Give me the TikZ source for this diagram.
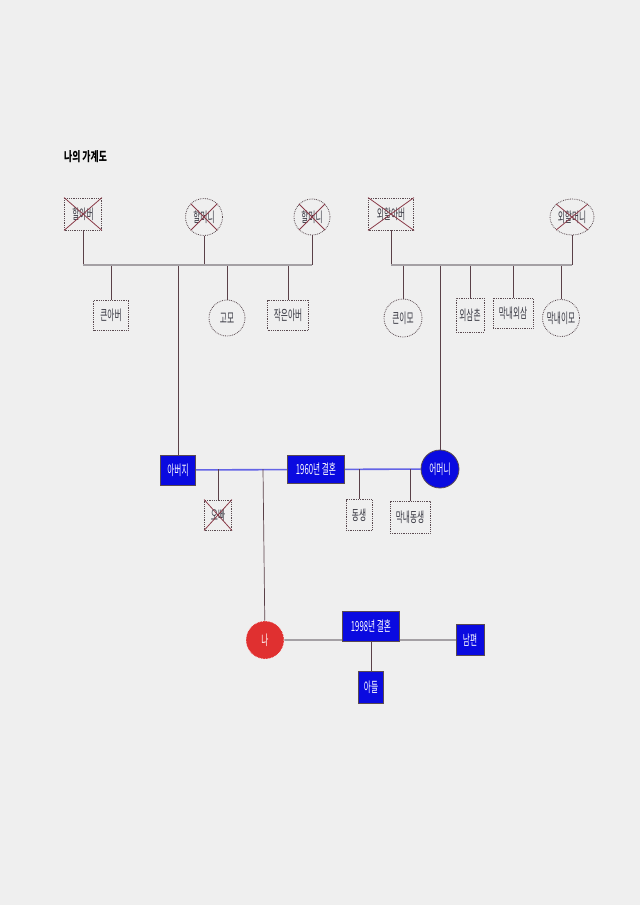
\documentclass[tikz,border=0pt]{standalone}
\usepackage{fontspec}
\usepackage{graphicx}
\usetikzlibrary{shapes.geometric}
\newfontfamily\kr{Noto Sans CJK KR}
\newcommand{\kt}[1]{\scalebox{0.55}[1]{\fontsize{14}{14}\selectfont\kr #1}}
\definecolor{bg}{HTML}{EFEFEF}
\definecolor{edge}{HTML}{5A4A50}
\definecolor{barc}{HTML}{A4A0A4}
\definecolor{mline}{HTML}{6464E6}
\definecolor{vline}{HTML}{5A4048}
\definecolor{xred}{HTML}{8A3A48}
\definecolor{pblue}{HTML}{0A0AE0}
\definecolor{pred}{HTML}{E03030}
\definecolor{txt}{HTML}{3A3A44}
\pgfdeclarelayer{paper}
\pgfdeclarelayer{lines}
\pgfsetlayers{paper,lines,main}
\begin{document}
\begin{tikzpicture}[x=1pt,y=-1pt,
  pbox/.style={draw=edge,line width=0.8pt,densely dotted,fill=bg,rectangle,inner sep=0pt,text=txt},
  pcirc/.style={draw=edge,line width=0.8pt,densely dotted,fill=bg,circle,inner sep=0pt,text=txt},
  bbox/.style={draw=edge,line width=0.8pt,fill=pblue,rectangle,inner sep=0pt,text=white},
  vl/.style={draw=vline,line width=0.7pt},
  sib/.style={draw=barc,line width=2.6pt},
  mar/.style={draw=mline,line width=1.6pt},
  xl/.style={draw=xred,line width=0.8pt}]
\begin{pgfonlayer}{paper}
\fill[bg] (0,0) rectangle (640,905);
\end{pgfonlayer}
\useasboundingbox (0,0) rectangle (640,905);

\node[anchor=west,inner sep=0pt] (title) at (64,157) {\scalebox{0.68}[1]{\fontsize{13}{13}\selectfont\kr\bfseries 나의 가계도}};

% nodes
\node[pbox,minimum width=37,minimum height=32] (gf) at (83,214) {\kt{할아버}};
\node[pcirc,minimum size=37] (gm1) at (204,217) {\kt{할머니}};
\node[pcirc,minimum size=36] (gm2) at (312,217) {\kt{할머니}};
\node[pbox,minimum width=35,minimum height=30] (u1) at (111,315) {\kt{큰아버}};
\node[pcirc,minimum size=36] (au) at (227,318) {\kt{고모}};
\node[pbox,minimum width=41,minimum height=30] (u2) at (288,315) {\kt{작은아버}};

\node[pbox,minimum width=45,minimum height=32] (mgf) at (391,214) {\kt{외할아버}};
\node[pcirc,ellipse,minimum width=44,minimum height=36] (mgm) at (572,217) {\kt{외할머니}};
\node[pcirc,minimum size=38] (mt1) at (403,318) {\kt{큰이모}};
\node[pbox,minimum width=28,minimum height=34] (mu1) at (470,315) {\kt{외삼촌}};
\node[pbox,minimum width=40,minimum height=30] (mu2) at (513,313) {\kt{막내외삼}};
\node[pcirc,minimum size=37] (mt2) at (561,318) {\kt{막내이모}};

\node[bbox,minimum width=35,minimum height=30] (fa) at (178,470) {\kt{아버지}};
\node[bbox,minimum width=57,minimum height=28] (m60) at (316,469) {\kt{1960년 결혼}};
\node[bbox,circle,minimum size=38] (mo) at (440,469) {\kt{어머니}};
\node[pbox,minimum width=27,minimum height=30] (sib0) at (218,515) {\kt{오빠}};
\node[pbox,minimum width=26,minimum height=31] (sib1) at (359,515) {\kt{동생}};
\node[pbox,minimum width=40,minimum height=32] (sib2) at (410,517) {\kt{막내동생}};

\node[draw=white,densely dotted,line width=0.6pt,fill=pred,circle,inner sep=0pt,minimum size=38,text=white] (me) at (265,640) {\kt{나}};
\node[bbox,minimum width=57,minimum height=30] (m98) at (371,626) {\kt{1998년 결혼}};
\node[bbox,minimum width=28,minimum height=31] (hu) at (470,640) {\kt{남편}};
\node[bbox,minimum width=25,minimum height=32] (son) at (371,687) {\kt{아들}};

% junction points
\coordinate (bl1) at (gf |- 0,265);
\coordinate (bl2) at (gm2 |- 0,265);
\coordinate (br1) at (mgf |- 0,265);
\coordinate (br2) at (mgm |- 0,265);
\coordinate (pj) at (263,469);
\coordinate (sj) at (218,469);
\coordinate (dj1) at (359,469);
\coordinate (dj2) at (410,469);

\begin{pgfonlayer}{lines}
% grandparents
\draw[vl] (gf) -- (bl1);
\draw[vl] (gm1) -- (gm1 |- bl1);
\draw[vl] (gm2) -- (bl2);
\draw[vl] (u1 |- bl1) -- (u1);
\draw[vl] (au |- bl1) -- (au);
\draw[vl] (u2 |- bl1) -- (u2);
\draw[vl] (fa |- bl1) -- (fa);

\draw[vl] (mgf) -- (br1);
\draw[vl] (mgm) -- (br2);
\draw[vl] (mt1 |- br1) -- (mt1);
\draw[vl] (mu1 |- br1) -- (mu1);
\draw[vl] (mu2 |- br1) -- (mu2);
\draw[vl] (mt2 |- br1) -- (mt2);
\draw[vl] (mo |- br1) -- (mo);
\draw[sib] (bl1) -- (bl2);
\draw[sib] (br1) -- (br2);

% parents
\draw[mar] (fa) -- (mo);
\draw[vl] (sj) -- (sib0);
\draw[vl] (pj) -- (me);
\draw[vl] (dj1) -- (sib1);
\draw[vl] (dj2) -- (sib2);

% me
\draw[sib] (me) -- (hu);
\draw[vl] (m98) -- (son);
\end{pgfonlayer}

% crosses for deceased
\draw[xl] (gf.north west) -- (gf.south east);
\draw[xl] (gf.north east) -- (gf.south west);
\draw[xl] (gm1.north west) -- (gm1.south east);
\draw[xl] (gm1.north east) -- (gm1.south west);
\draw[xl] (gm2.north west) -- (gm2.south east);
\draw[xl] (gm2.north east) -- (gm2.south west);
\draw[xl] (mgf.north west) -- (mgf.south east);
\draw[xl] (mgf.north east) -- (mgf.south west);
\draw[xl] (mgm.north west) -- (mgm.south east);
\draw[xl] (mgm.north east) -- (mgm.south west);
\draw[xl] (sib0.north west) -- (sib0.south east);
\draw[xl] (sib0.north east) -- (sib0.south west);
\end{tikzpicture}
\end{document}
